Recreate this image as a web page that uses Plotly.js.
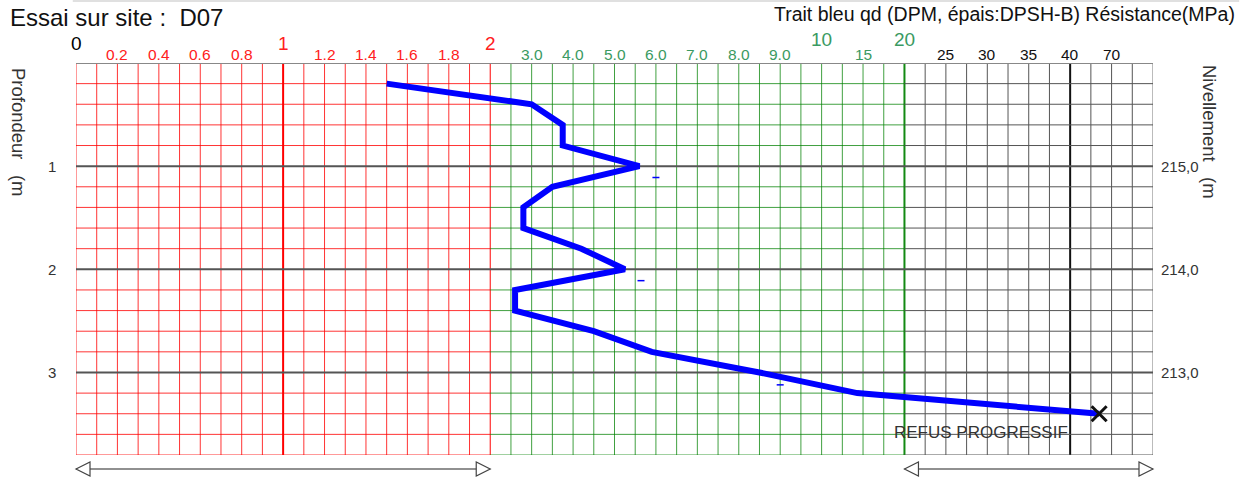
<!DOCTYPE html>
<html><head><meta charset="utf-8">
<script src="https://cdn.plot.ly/plotly-3.0.1.min.js"></script>
<style>html,body{margin:0;padding:0;background:#fff}</style>
</head><body><div id="chart" style="width:1250px;height:481px"></div>
<script>
// ---- data ----
const depthM = [0.2,0.4,0.6,0.8,1.0,1.2,1.4,1.6,1.8,2.0,2.2,2.4,2.6,2.8,3.0,3.2,3.4];
const qdMPa  = [1.5,3.0,3.75,3.75,5.6,3.5,2.8,2.8,4.2,5.25,2.6,2.6,4.5,5.9,8.5,14.3,61];
const dashDepth = [1.11,2.11,3.12];
const dashQd    = [6.0,5.64,9.0];
const depthTicks = [1,2,3];
const depthTickText = ['1','2','3'];
const elevTickText = ['215,0','214,0','213,0'];
const bigTickVals = [0,1,2,10,20];
const bigTickText = ['0','1','2','10','20'];
const smallTickVals = [0.2,0.4,0.6,0.8,1.2,1.4,1.6,1.8,3,4,5,6,7,8,9,15,25,30,35,40,70];
const smallTickText = ['0.2','0.4','0.6','0.8','1.2','1.4','1.6','1.8','3.0','4.0','5.0','6.0','7.0','8.0','9.0','15','25','30','35','40','70'];
// piecewise scale: value -> grid column
const scaleVals = [0,2,10,40,70,100];
const scaleCols = [0,20,36,48,50,52];

function toCol(v){
  for(let i=0;i<scaleVals.length-1;i++){
    if(v<=scaleVals[i+1]){
      const t=(v-scaleVals[i])/(scaleVals[i+1]-scaleVals[i]);
      return scaleCols[i]+t*(scaleCols[i+1]-scaleCols[i]);
    }
  }
  return scaleCols[scaleCols.length-1];
}
const NCOL = 52, DMAX = 3.8;
const RED='rgba(255,0,0,0.8)', GREEN='rgba(0,128,0,0.75)', BLK='#555';
function secColor(c){ return c<=20?RED:(c<=40?GREEN:BLK); }
function labColor(c){ return c<=20?'#ff2020':(c<=40?'#3a9a62':'#111'); }

const shapes=[];
// vertical grid
for(let c=0;c<=NCOL;c++){
  let w=1, col=secColor(c);
  if(c===10){w=2;col='#ff0000';}
  if(c===20){col='#ff0000';}
  if(c===40){w=2;col='#138a13';}
  if(c===48){w=2;col='#111';}
  if(c===NCOL){col='#777';}
  shapes.push({type:'line',xref:'x',yref:'y',x0:c,x1:c,y0:0,y1:DMAX,line:{color:col,width:w},layer:'below'});
}
// horizontal grid
const secs=[[0,20],[20,40],[40,52]];
for(let k=1;k<=19;k++){
  const d=+(k*0.2).toFixed(1);
  if(Math.abs(d-Math.round(d))<1e-9 && d<3.8){
    shapes.push({type:'line',xref:'x',yref:'y',x0:0,x1:NCOL,y0:d,y1:d,line:{color:'#555',width:2},layer:'below'});
  } else {
    secs.forEach(s=>{
      shapes.push({type:'line',xref:'x',yref:'y',x0:s[0],x1:s[1],y0:d,y1:d,line:{color:secColor(s[1]),width:1},layer:'below'});
    });
  }
}
// top border
shapes.push({type:'line',xref:'x',yref:'y',x0:0,x1:NCOL,y0:0,y1:0,line:{color:'#888',width:2},layer:'below'});
// faint top rule
shapes.push({type:'line',xref:'paper',yref:'paper',x0:-0.003,x1:1.08,y0:1.158,y1:1.158,line:{color:'#e0e0e0',width:2}});
// bottom double arrows
const PW=1077, PH=392;
const ay=-(469-455)/PH, ah=7/PH, aw=14/PW;
function arrow(c0,c1){
  const x0=c0/NCOL, x1=c1/NCOL;
  shapes.push({type:'line',xref:'paper',yref:'paper',x0:x0,x1:x1,y0:ay,y1:ay,line:{color:'#222',width:1.2}});
  shapes.push({type:'path',xref:'paper',yref:'paper',path:`M ${x0},${ay} L ${x0+aw},${ay+ah} L ${x0+aw},${ay-ah} Z`,fillcolor:'#fff',line:{color:'#444',width:1.2}});
  shapes.push({type:'path',xref:'paper',yref:'paper',path:`M ${x1},${ay} L ${x1-aw},${ay+ah} L ${x1-aw},${ay-ah} Z`,fillcolor:'#fff',line:{color:'#444',width:1.2}});
}
arrow(toCol(0),toCol(2));
arrow(toCol(20),toCol(100));

const FONT='Liberation Sans, Arial, sans-serif';
const ann=[];
bigTickVals.forEach((v,i)=>{
  const c=toCol(v);
  const color = v===0?'#000':labColor(c);
  const yy = v>=10?1.059:1.051;
  ann.push({xref:'x',yref:'paper',x:c,y:yy,text:bigTickText[i],showarrow:false,xanchor:'center',yanchor:'middle',font:{family:FONT,size:19,color:color}});
});
smallTickVals.forEach((v,i)=>{
  const c=toCol(v);
  ann.push({xref:'x',yref:'paper',x:c,y:1.022,text:smallTickText[i],showarrow:false,xanchor:'center',yanchor:'middle',font:{family:FONT,size:15.5,color:labColor(c)}});
});
depthTicks.forEach((d,i)=>{
  ann.push({xref:'paper',yref:'y',x:-0.017,y:d,text:depthTickText[i],showarrow:false,xanchor:'right',yanchor:'middle',font:{family:FONT,size:15,color:'#333'}});
  ann.push({xref:'paper',yref:'y',x:1.006,y:d,text:elevTickText[i],showarrow:false,xanchor:'left',yanchor:'middle',font:{family:FONT,size:15,color:'#333'}});
});
ann.push({xref:'paper',yref:'paper',x:(18-76)/PW,y:(455-132)/PH,text:'Profondeur\u00a0\u00a0\u00a0(m',textangle:90,showarrow:false,xanchor:'center',yanchor:'middle',font:{family:FONT,size:18.5,color:'#333'}});
ann.push({xref:'paper',yref:'paper',x:(1209-76)/PW,y:(455-132)/PH,text:'Nivellement\u00a0\u00a0\u00a0(m',textangle:90,showarrow:false,xanchor:'center',yanchor:'middle',font:{family:FONT,size:18.5,color:'#333'}});
ann.push({xref:'paper',yref:'paper',x:(8-76)/PW,y:(455-17)/PH,text:'Essai sur site :\u00a0\u00a0D07',showarrow:false,xanchor:'left',yanchor:'middle',font:{family:FONT,size:24,color:'#111'}});
ann.push({xref:'paper',yref:'paper',x:(1237-76)/PW,y:(455-14)/PH,text:'Trait bleu qd (DPM, épais:DPSH-B) Résistance(MPa)',showarrow:false,xanchor:'right',yanchor:'middle',font:{family:FONT,size:19.5,color:'#111'}});
ann.push({xref:'x',yref:'y',x:(892-76)/20.71,y:3.58,text:'REFUS PROGRESSIF',showarrow:false,xanchor:'left',yanchor:'middle',font:{family:FONT,size:17,color:'#333'}});

const traces=[
  {x:qdMPa.map(toCol),y:depthM,mode:'lines',line:{color:'#0000ff',width:6},hoverinfo:'skip',showlegend:false},
  {x:dashQd.map(toCol),y:dashDepth,mode:'markers',marker:{symbol:'line-ew',size:5,line:{color:'#0000ff',width:1.5}},showlegend:false},
  {x:[toCol(qdMPa[qdMPa.length-1])],y:[depthM[depthM.length-1]],mode:'markers',marker:{symbol:'x-thin',size:15,line:{color:'#111',width:3}},showlegend:false}
];
const layout={
  width:1250,height:481,
  margin:{l:76,r:97,t:63,b:26,pad:0},
  paper_bgcolor:'#fff',plot_bgcolor:'#fff',
  showlegend:false,
  xaxis:{range:[0,NCOL],showgrid:false,zeroline:false,showticklabels:false,ticks:'',showline:false,fixedrange:true},
  yaxis:{range:[DMAX,0],showgrid:false,zeroline:false,showticklabels:false,ticks:'',showline:false,fixedrange:true},
  shapes:shapes,annotations:ann
};
Plotly.newPlot('chart',traces,layout,{staticPlot:true});
</script></body></html>
